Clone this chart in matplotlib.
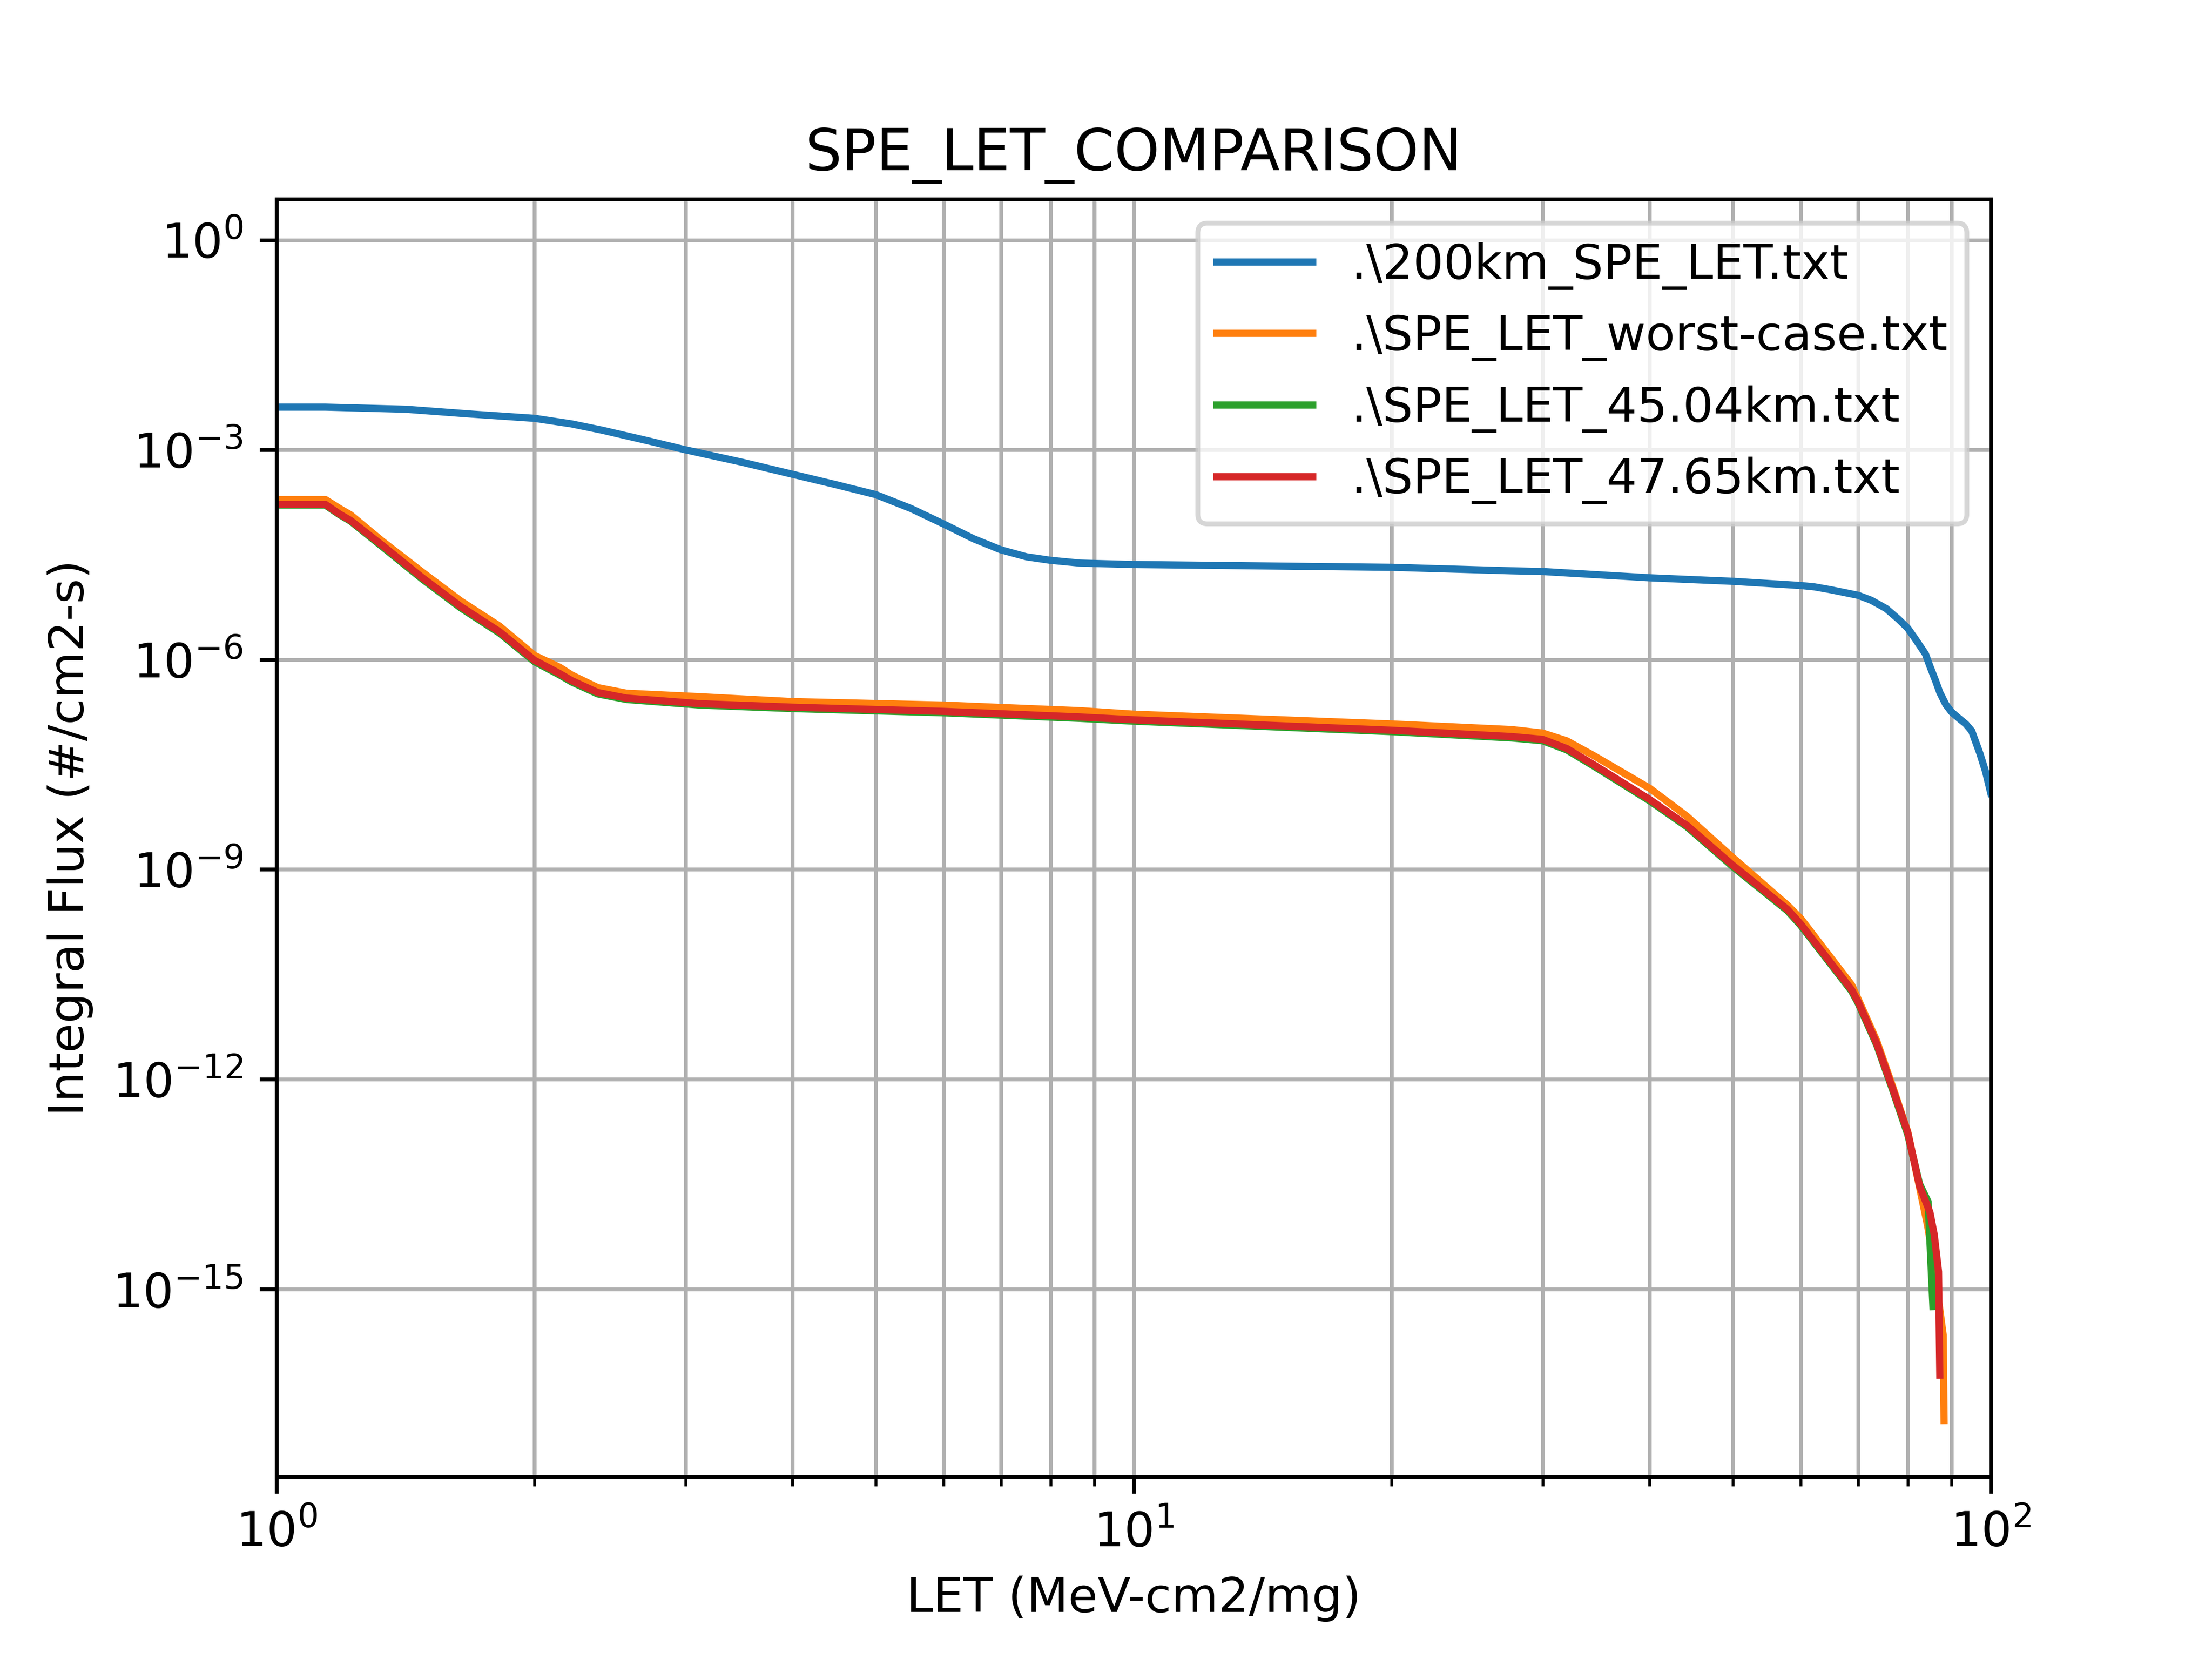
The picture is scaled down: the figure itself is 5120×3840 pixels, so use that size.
import numpy as np
import matplotlib.pyplot as plt
from matplotlib.ticker import NullLocator

# LET values (MeV-cm2/mg) and log10 of integral flux (#/cm2-s)
let_200km = [1.0, 1.14, 1.415, 1.69, 2.0, 2.21, 2.4, 2.56, 2.71, 3.0, 3.5, 4.0, 4.5,
             5.0, 5.5, 6.0, 6.5, 7.0, 7.5, 8.0, 8.66, 10.0, 20.0, 27.6, 30.0, 40.0,
             50.0, 60.0, 62.3, 65.0, 70.0, 72.5, 75.5, 78.0, 80.0, 81.6, 83.9, 85.0,
             86.2, 87.2, 88.6, 90.0, 91.8, 93.5, 95.0, 97.1, 98.6, 100.0]
lflux_200km = [-2.39, -2.39, -2.42, -2.49, -2.55, -2.63, -2.72, -2.80, -2.87, -3.00,
               -3.18, -3.35, -3.50, -3.64, -3.84, -4.06, -4.27, -4.43, -4.53, -4.58,
               -4.62, -4.64, -4.68, -4.73, -4.74, -4.83, -4.88, -4.94, -4.96, -5.00,
               -5.08, -5.15, -5.27, -5.42, -5.55, -5.70, -5.92, -6.11, -6.30, -6.47,
               -6.64, -6.75, -6.84, -6.92, -7.02, -7.34, -7.60, -7.91]

let_worst = [1.0, 1.14, 1.185, 1.22, 1.33, 1.48, 1.64, 1.82, 2.0, 2.14, 2.21, 2.37,
             2.56, 3.12, 4.0, 6.0, 8.66, 10.0, 20.0, 27.6, 30.0, 32.0, 34.5, 40.0,
             44.2, 50.0, 57.9, 60.0, 68.8, 70.0, 73.6, 76.8, 80.0, 82.6, 84.4, 86.0,
             87.0, 88.0, 88.2]
lflux_worst = [-3.71, -3.71, -3.84, -3.93, -4.31, -4.75, -5.16, -5.52, -5.94, -6.11,
               -6.22, -6.40, -6.48, -6.53, -6.60, -6.65, -6.73, -6.78, -6.92, -7.00,
               -7.05, -7.16, -7.38, -7.84, -8.24, -8.83, -9.51, -9.70, -10.65, -10.85,
               -11.45, -12.10, -12.75, -13.55, -14.10, -14.70, -15.20, -15.66, -16.88]

let_45km = [1.0, 1.14, 1.185, 1.22, 1.33, 1.48, 1.64, 1.82, 2.0, 2.14, 2.21, 2.37,
            2.56, 3.12, 4.0, 6.0, 8.66, 10.0, 20.0, 27.6, 30.0, 32.0, 34.5, 40.0,
            44.2, 50.0, 57.9, 60.0, 68.8, 70.0, 73.6, 76.8, 80.0, 82.6, 84.5, 85.6]
lflux_45km = [-3.79, -3.79, -3.93, -4.02, -4.39, -4.85, -5.26, -5.62, -6.03, -6.22,
              -6.32, -6.49, -6.57, -6.65, -6.70, -6.76, -6.84, -6.88, -7.03, -7.12,
              -7.16, -7.29, -7.53, -8.02, -8.39, -8.96, -9.59, -9.80, -10.74, -10.91,
              -11.51, -12.15, -12.79, -13.50, -13.75, -15.25]

let_47km = [1.0, 1.14, 1.185, 1.22, 1.33, 1.48, 1.64, 1.82, 2.0, 2.14, 2.21, 2.37,
            2.56, 3.12, 4.0, 6.0, 8.66, 10.0, 20.0, 27.6, 30.0, 32.0, 34.5, 40.0,
            44.2, 50.0, 57.9, 60.0, 68.8, 70.0, 73.6, 76.8, 80.0, 82.6, 84.9, 85.9,
            86.9, 87.2]
lflux_47km = [-3.78, -3.78, -3.92, -4.01, -4.37, -4.83, -5.24, -5.60, -6.01, -6.20,
              -6.30, -6.47, -6.55, -6.63, -6.68, -6.74, -6.82, -6.86, -7.01, -7.10,
              -7.14, -7.27, -7.51, -8.00, -8.37, -8.94, -9.57, -9.78, -10.72, -10.89,
              -11.49, -12.13, -12.76, -13.53, -13.90, -14.22, -14.75, -16.23]

files = [r'.\200km_SPE_LET.txt', r'.\SPE_LET_worst-case.txt',
         r'.\SPE_LET_45.04km.txt', r'.\SPE_LET_47.65km.txt']
series = [(let_200km, lflux_200km), (let_worst, lflux_worst),
          (let_45km, lflux_45km), (let_47km, lflux_47km)]

fig = plt.figure(figsize=(6.4, 4.8))
ax = plt.gca()
for name, (x, ly) in zip(files, series):
    ax.plot(x, np.power(10.0, ly), label=name)

ax.set_xscale('log')
ax.set_yscale('log')
ax.set_xlim(1, 100)
ax.set_ylim(10 ** -17.68, 10 ** 0.585)
ax.set_yticks(10.0 ** np.arange(-15, 1, 3))
ax.yaxis.set_minor_locator(NullLocator())
ax.grid(True, which='both')
ax.set_title('SPE_LET_COMPARISON')
ax.set_xlabel('LET (MeV-cm2/mg)')
ax.set_ylabel('Integral Flux (#/cm2-s)')
ax.legend(loc='upper right')
plt.savefig('out.png', dpi=800)
